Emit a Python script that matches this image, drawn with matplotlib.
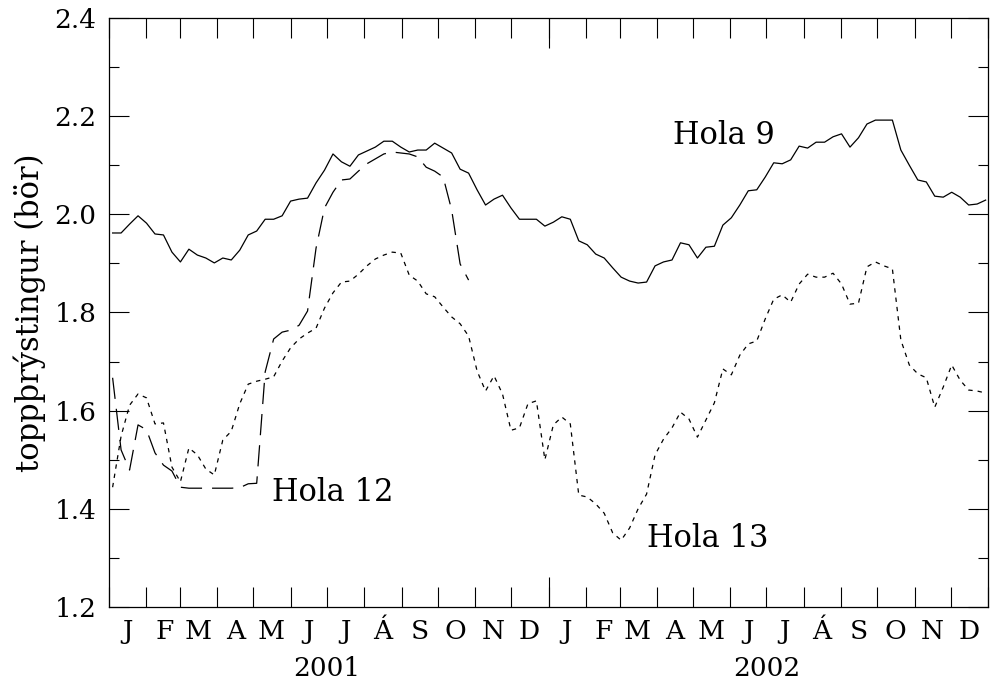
import matplotlib
matplotlib.use("Agg")
import matplotlib.pyplot as plt
import pandas as pd

# weekly wellhead pressure readings (bar)
hola9 = [1.962, 1.962, 1.980, 1.997, 1.982, 1.960, 1.958, 1.923, 1.903, 1.929,
         1.917, 1.911, 1.901, 1.911, 1.907, 1.927, 1.958, 1.966, 1.990, 1.990,
         1.997, 2.027, 2.031, 2.033, 2.064, 2.090, 2.123, 2.107, 2.098, 2.121,
         2.129, 2.137, 2.149, 2.149, 2.137, 2.127, 2.131, 2.131, 2.145, 2.135,
         2.125, 2.092, 2.084, 2.050, 2.019, 2.031, 2.039, 2.013, 1.990, 1.990,
         1.990, 1.976, 1.984, 1.995, 1.990, 1.946, 1.938, 1.919, 1.911, 1.891,
         1.872, 1.864, 1.860, 1.862, 1.895, 1.903, 1.907, 1.942, 1.938, 1.911,
         1.933, 1.935, 1.978, 1.993, 2.019, 2.048, 2.050, 2.076, 2.105, 2.103,
         2.111, 2.139, 2.135, 2.147, 2.147, 2.158, 2.164, 2.137, 2.156, 2.184,
         2.192, 2.192, 2.192, 2.131, 2.100, 2.070, 2.066, 2.037, 2.035, 2.045,
         2.035, 2.019, 2.021, 2.029]

hola12 = [1.667, 1.520, 1.479, 1.571, 1.561, 1.514, 1.489, 1.477, 1.444, 1.442,
          1.442, 1.442, 1.442, 1.442, 1.442, 1.443, 1.451, 1.452, 1.679, 1.746,
          1.760, 1.764, 1.774, 1.803, 1.931, 2.013, 2.045, 2.070, 2.072, 2.088,
          2.103, 2.113, 2.123, 2.127, 2.125, 2.123, 2.117, 2.096, 2.088, 2.076,
          2.009, 1.899, 1.866]

hola13 = [1.444, 1.548, 1.611, 1.634, 1.626, 1.573, 1.575, 1.485, 1.455, 1.524,
          1.510, 1.481, 1.469, 1.540, 1.558, 1.614, 1.654, 1.660, 1.664, 1.669,
          1.701, 1.728, 1.746, 1.758, 1.768, 1.809, 1.840, 1.862, 1.864, 1.878,
          1.895, 1.909, 1.917, 1.923, 1.921, 1.876, 1.864, 1.838, 1.832, 1.811,
          1.791, 1.777, 1.752, 1.681, 1.640, 1.671, 1.634, 1.560, 1.565, 1.614,
          1.620, 1.500, 1.571, 1.587, 1.573, 1.428, 1.424, 1.410, 1.391, 1.351,
          1.336, 1.361, 1.400, 1.430, 1.510, 1.542, 1.565, 1.597, 1.583, 1.546,
          1.581, 1.616, 1.685, 1.673, 1.713, 1.736, 1.742, 1.787, 1.827, 1.836,
          1.821, 1.858, 1.878, 1.872, 1.872, 1.880, 1.858, 1.817, 1.819, 1.893,
          1.903, 1.895, 1.889, 1.744, 1.693, 1.675, 1.667, 1.607, 1.648, 1.693,
          1.662, 1.642, 1.640, 1.636]

months = ["J", "F", "M", "A", "M", "J", "J", "Á", "S", "O", "N", "D"]
years = ["2001", "2002"]

dates = pd.date_range("2001-01-04", "2002-12-30", periods=len(hola9))

plt.rcParams['font.family'] = ['DejaVu Serif']
fs = 19
fs_big = 22

fig = plt.figure(figsize=(9.9, 6.8), dpi=100)
ax = fig.add_axes([0.1101, 0.1074, 0.8879, 0.8661])

ax.plot(dates, hola9, color='k', lw=0.9)
ax.plot(dates[:len(hola12)], hola12, color='k', lw=0.9, dashes=(17, 8))
ax.plot(dates, hola13, color='k', lw=0.9, dashes=(3.5, 4))

ax.set_xlim(pd.Timestamp("2001-01-01"), pd.Timestamp("2003-01-01"))
ax.set_ylim(1.2, 2.4)

month_starts = pd.date_range("2001-01-01", "2003-01-01", freq="MS")
ax.set_xticks(month_starts)
ax.set_xticklabels([])
mids = month_starts[:-1] + pd.Timedelta(days=15)
ax.set_xticks(mids, minor=True)
ax.set_xticklabels(months * 2, minor=True, fontsize=fs)
ax.tick_params(axis='x', which='major', direction='in', length=14.4, width=0.8,
               top=True, bottom=True)
ax.tick_params(axis='x', which='minor', length=0, pad=9)

# longer tick at the year boundary
for side in ('bottom', 'top'):
    sec = ax.secondary_xaxis(side)
    sec.set_xticks([pd.Timestamp("2002-01-01")])
    sec.set_xticklabels([])
    sec.tick_params(direction='in', length=21.6, width=0.8)
    sec.spines[side].set_visible(False)

ax.set_yticks([1.2, 1.4, 1.6, 1.8, 2.0, 2.2, 2.4])
ax.set_yticklabels(["%.1f" % v for v in ax.get_yticks()], fontsize=fs)
ax.set_yticks([1.3, 1.5, 1.7, 1.9, 2.1, 2.3], minor=True)
ax.tick_params(axis='y', which='major', direction='in', length=14.4, width=0.8,
               left=True, right=True, pad=9)
ax.tick_params(axis='y', which='minor', direction='in', length=7.2, width=0.8,
               left=True, right=True)

for sp in ax.spines.values():
    sp.set_linewidth(0.9)

for i, yr in enumerate(years):
    ax.annotate(yr, xy=(pd.Timestamp(f"{yr}-07-01"), 0), xycoords=('data', 'axes fraction'),
                xytext=(0, -62), textcoords='offset pixels', ha='center', va='center',
                fontsize=fs)

ax.set_ylabel("toppþrýstingur (bör)", fontsize=fs_big, labelpad=6)

ax.text(pd.Timestamp("2002-04-14"), 2.160, "Hola 9", fontsize=fs_big, va='center', ha='left')
ax.text(pd.Timestamp("2001-05-16"), 1.434, "Hola 12", fontsize=fs_big, va='center', ha='left')
ax.text(pd.Timestamp("2002-03-24"), 1.340, "Hola 13", fontsize=fs_big, va='center', ha='left')

fig.savefig("out.png", dpi=100)
